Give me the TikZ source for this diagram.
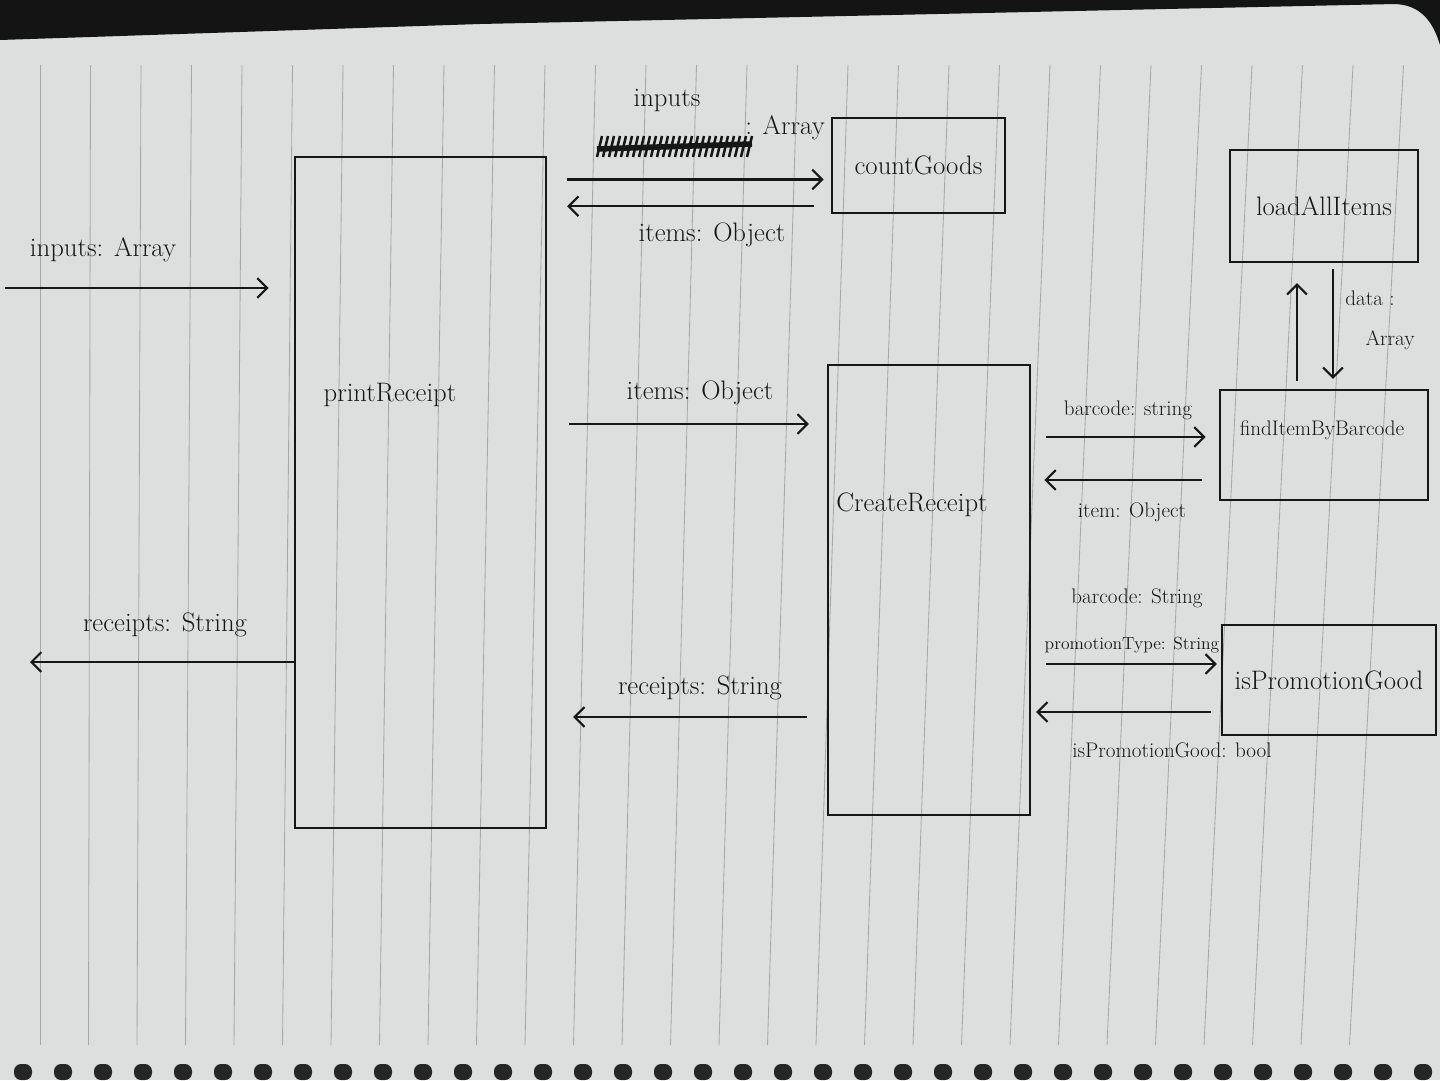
\documentclass[tikz,border=0pt]{standalone}
\usepackage{tikz}
\usetikzlibrary{arrows.meta}

\definecolor{paper}{RGB}{221,223,222}
\definecolor{ruled}{RGB}{165,168,168}
\definecolor{ink}{RGB}{22,22,22}

\tikzset{
  box/.style={draw=ink,line width=1.6pt,inner sep=0pt},
  flow/.style={draw=ink,line width=1.5pt,-{Straight Barb[length=7pt,width=14pt]}},
  lbl/.style={text=ink,inner sep=1pt,font=\fontsize{19}{21}\selectfont},
  lblsmall/.style={text=ink,inner sep=1pt,font=\fontsize{15}{17}\selectfont},
  lbltiny/.style={text=ink,inner sep=1pt,font=\fontsize{12.5}{14}\selectfont},
}

\begin{document}
\begin{tikzpicture}[x=0.025cm,y=-0.025cm]
            \useasboundingbox (0,0) rectangle (1440,1080);

            % the notebook page
            \fill[paper] (0,0) rectangle (1440,1080);
            \foreach \i in {0,...,27}
              \draw[ruled,line width=0.6pt] (40+50.5*\i,65) -- (40+48.5*\i,1045);
            \fill[black!92] (0,0) -- (1440,0) -- (1440,45) .. controls (1432,18) and (1418,5) .. (1395,4)
                 -- (480,24) -- (0,40) -- cycle;
            \foreach \i in {0,...,35}
              \fill[black!85,rounded corners=5pt] (14+40*\i,1064) rectangle (32+40*\i,1080);

            % boxes
            \node[box,minimum width=6.275cm,minimum height=16.775cm] (printReceipt) at (420.5,492.5) {};
            \node[box,minimum width=4.325cm,minimum height=2.375cm,lbl] (countGoods) at (918.5,165.5) {countGoods};
            \node[box,minimum width=5.05cm,minimum height=11.25cm] (createReceipt) at (929,590) {};
            \node[box,minimum width=4.7cm,minimum height=2.8cm,lbl] (loadAllItems) at (1324,206) {loadAllItems};
            \node[box,minimum width=5.2cm,minimum height=2.75cm] (findItemByBarcode) at (1324,445) {};
            \node[box,minimum width=5.35cm,minimum height=2.75cm,lbl] (isPromotionGood) at (1329,680) {isPromotionGood};

            \node[lbl] (printLbl) at (390,395) {printReceipt};
            \node[lbl] (createLbl) at (912,505) {CreateReceipt};
            \node[lblsmall] (findLbl) at (1322,430) {findItemByBarcode};

            % printReceipt in and out
            \coordinate (inStart) at (5,288);
            \coordinate (outEnd) at (30,662);
            \draw[flow,shorten >=0.63cm] (inStart) -- (inStart -| printReceipt.west);
            \draw[flow] (printReceipt.west |- outEnd) -- (outEnd);
            \node[lbl] (inLbl) at (103,250) {inputs: Array};
            \node[lbl] (outLbl) at (165,625) {receipts: String};

            % printReceipt <-> countGoods
            \coordinate (cgIn) at ([yshift=-0.35cm]countGoods.west);
            \coordinate (cgOut) at ([yshift=-1.02cm]countGoods.west);
            \draw[flow,shorten <=0.5cm,shorten >=0.18cm] (printReceipt.east |- cgIn) -- (cgIn);
            \draw[flow,shorten <=0.43cm,shorten >=0.5cm] (cgOut) -- (printReceipt.east |- cgOut);
            \node[lbl] (cgInLbl) at (667,100) {inputs};
            \node[lbl] (cgArrLbl) at (785,128) {: Array};
            \foreach \i in {0,...,25}
              \draw[ink,line width=1.8pt] (597+6*\i,157) -- (602+6*\i,136);
            \draw[ink,line width=4pt] (597,149) -- (752,144);
            \node[lbl] (cgOutLbl) at (712,235) {items: Object};

            % printReceipt <-> createReceipt
            \coordinate (crIn) at ([yshift=4.15cm]createReceipt.west);
            \coordinate (crOut) at ([yshift=-3.175cm]createReceipt.west);
            \draw[flow,shorten <=0.55cm,shorten >=0.45cm] (printReceipt.east |- crIn) -- (crIn);
            \draw[flow,shorten <=0.5cm,shorten >=0.65cm] (crOut) -- (printReceipt.east |- crOut);
            \node[lbl] (crInLbl) at (700,393) {items: Object};
            \node[lbl] (crOutLbl) at (700,688) {receipts: String};

            % createReceipt <-> findItemByBarcode
            \coordinate (fiIn) at ([yshift=0.2cm]findItemByBarcode.west);
            \coordinate (fiOut) at ([yshift=-0.875cm]findItemByBarcode.west);
            \draw[flow,shorten <=0.375cm,shorten >=0.33cm] (createReceipt.east |- fiIn) -- (fiIn);
            \draw[flow,shorten <=0.43cm,shorten >=0.33cm] (fiOut) -- (createReceipt.east |- fiOut);
            \node[lblsmall] (fiInLbl) at (1128,410) {barcode: string};
            \node[lblsmall] (fiOutLbl) at (1132,512) {item: Object};

            % createReceipt <-> isPromotionGood
            \coordinate (ipIn) at ([yshift=0.4cm]isPromotionGood.west);
            \coordinate (ipOut) at ([yshift=-0.8cm]isPromotionGood.west);
            \draw[flow,shorten <=0.375cm,shorten >=0.1cm] (createReceipt.east |- ipIn) -- (ipIn);
            \draw[flow,shorten <=0.25cm,shorten >=0.125cm] (ipOut) -- (createReceipt.east |- ipOut);
            \node[lblsmall] (ipInLbl) at (1137,598) {barcode: String};
            \node[lbltiny] (ipTypeLbl) at (1132,645) {promotionType: String};
            \node[lblsmall] (ipOutLbl) at (1172,750) {isPromotionGood: bool};

            % findItemByBarcode <-> loadAllItems
            \coordinate (laUp) at ([xshift=-0.675cm]loadAllItems.south);
            \coordinate (laDown) at ([xshift=0.225cm]loadAllItems.south);
            \draw[flow,shorten <=0.2cm,shorten >=0.5cm] (laUp |- findItemByBarcode.north) -- (laUp);
            \draw[flow,shorten <=0.15cm,shorten >=0.25cm] (laDown) -- (laDown |- findItemByBarcode.north);
            \node[lblsmall] (laLbl) at (1370,298) {data :};
            \node[lblsmall] (laArrLbl) at (1390,340) {Array};
\end{tikzpicture}
\end{document}
